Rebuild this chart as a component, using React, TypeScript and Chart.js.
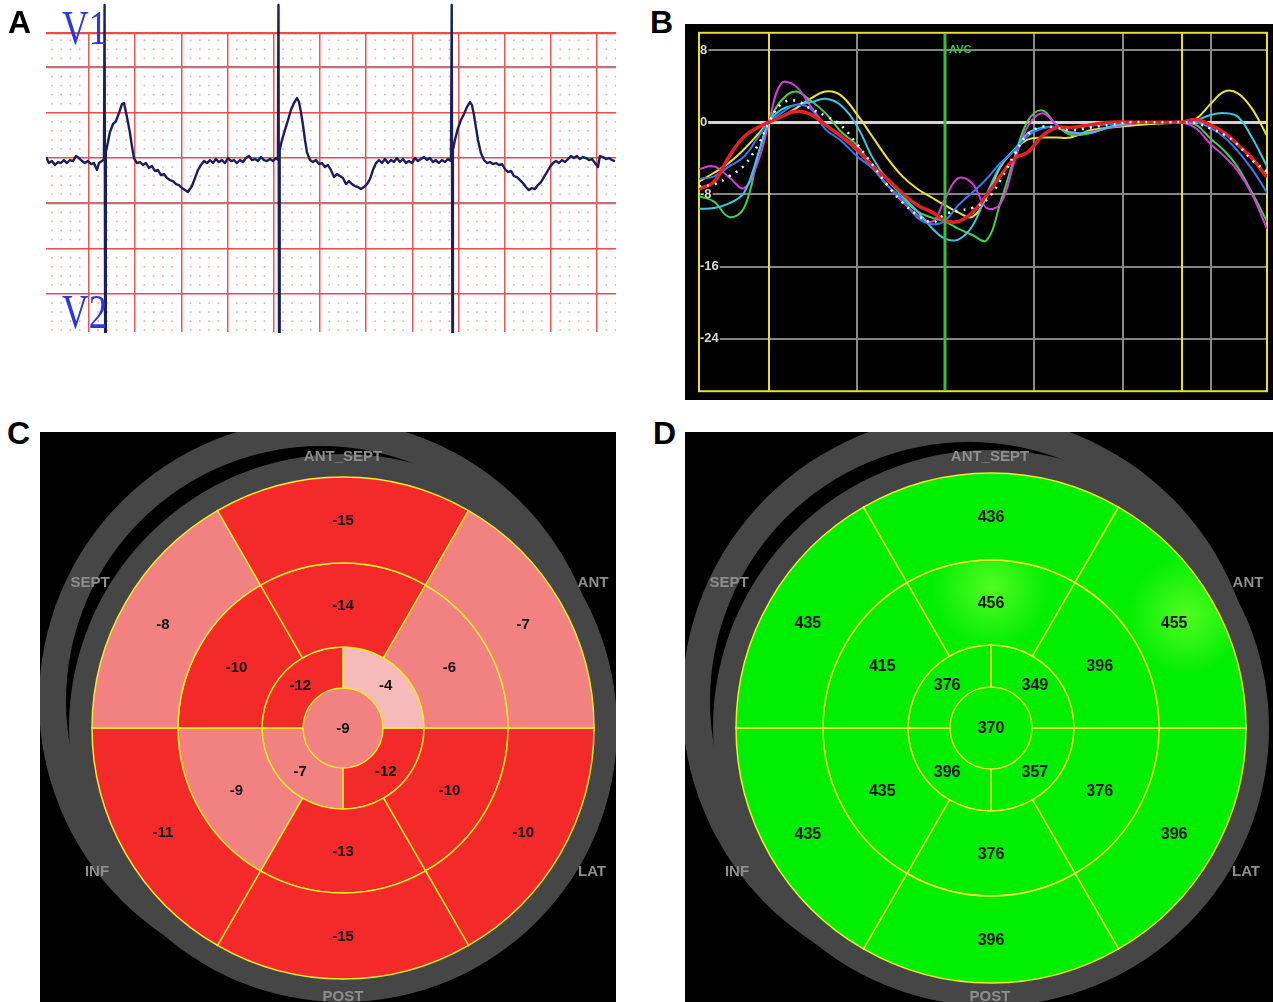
import React, { useEffect, useRef } from "react";
import { Chart, registerables } from "chart.js";

Chart.register(...registerables);

const FONT = '"Liberation Sans", Arial, sans-serif';
Chart.defaults.font.family = FONT;

// ---------------- Panel A : ECG (time in mm of paper, amplitude in mm) ----------------
const ecgTime = [
  0.35, 0.67, 0.99, 1.32, 1.65, 1.97, 2.29, 2.62, 2.94, 3.27, 3.59, 3.92, 4.24, 4.57, 4.89, 5.22, 5.54, 5.87, 6.08, 6.41,
  6.62, 6.69, 6.75, 6.82, 6.95, 7.27, 7.6, 7.92, 8.25, 8.57, 8.79, 9.0, 9.22, 9.44, 9.65, 9.87,
  10.19, 10.52, 10.84, 11.17, 11.49, 11.82, 12.14, 12.47, 12.79, 13.12, 13.44, 13.77, 14.09, 14.42, 14.74, 15.06,
  15.39, 15.71, 15.93, 16.15, 16.47, 16.8, 17.12, 17.45, 17.77, 18.1, 18.42, 18.74, 19.07, 19.39, 19.72, 20.04,
  20.37, 20.69, 21.02, 21.34, 21.67, 21.99, 22.32, 22.64, 22.97, 23.29, 23.61, 23.94, 24.26, 24.59, 24.91, 25.24,
  25.45, 25.51, 25.57, 25.64, 25.89, 26.21, 26.54, 26.86, 27.19, 27.51, 27.73, 27.94, 28.16, 28.38, 28.59,
  28.92, 29.24, 29.57, 29.89, 30.22, 30.54, 30.87, 31.19, 31.52, 31.84, 32.16, 32.49, 32.81, 33.14, 33.46, 33.79,
  34.11, 34.44, 34.76, 35.09, 35.41, 35.74, 36.06, 36.39, 36.71, 37.03, 37.36, 37.68, 38.01, 38.33, 38.66, 38.98,
  39.31, 39.63, 39.96, 40.28, 40.61, 40.93, 41.26, 41.58, 41.9, 42.23, 42.55, 42.88, 43.2, 43.53, 43.85,
  44.18, 44.26, 44.33, 44.39, 44.61, 44.94, 45.26, 45.59, 45.91, 46.24, 46.45, 46.67, 46.89, 47.1, 47.42,
  47.75, 48.07, 48.4, 48.72, 49.05, 49.37, 49.7, 50.02, 50.35, 50.67, 51.0, 51.32, 51.65, 51.97, 52.29, 52.62,
  52.94, 53.27, 53.59, 53.92, 54.24, 54.57, 54.89, 55.22, 55.54, 55.87, 56.19, 56.52, 56.84, 57.16, 57.49, 57.81,
  58.14, 58.46, 58.79, 59.11, 59.44, 59.76, 60.09, 60.3, 60.63, 60.95, 61.28, 61.6, 61.93,
];
const ecgAmp = [
  0.11, -0.55, -0.33, -0.77, -0.44, -0.55, -0.22, -0.55, -0.22, -0.33, 0.22, 0, -0.33, -0.55, -0.33, -0.66, -0.55, -1.32, -0.55, -0.33,
  -0.11, 16.9, -19.5, 0.66, 1.21, 2.87, 3.75, 4.08, 4.97, 5.96, 6.07, 5.08, 3.97, 2.76, 1.32, 0,
  -0.55, -0.44, -0.77, -0.55, -1.1, -0.88, -1.43, -1.32, -1.88, -1.77, -2.21, -2.43, -2.54, -2.87, -2.98, -3.31,
  -3.53, -3.75, -3.42, -3.09, -2.21, -1.32, -0.77, -0.33, -0.55, -0.22, -0.55, -0.11, -0.44, -0.22, -0.55, 0,
  -0.33, -0.22, -0.55, -0.22, -0.44, 0, 0.22, -0.22, -0.11, -0.33, 0.11, -0.22, -0.33, -0.11, -0.33, 0,
  -0.22, 16.9, -19.5, 0.88, 1.99, 3.09, 4.19, 5.3, 6.07, 6.62, 6.18, 5.08, 3.64, 1.99, 0.66,
  -0.22, -0.44, -0.22, -0.66, -0.55, -1.0, -0.77, -1.32, -2.1, -1.77, -1.99, -2.21, -2.87, -2.54, -2.87, -3.09,
  -3.2, -3.42, -3.2, -2.87, -2.32, -1.32, -0.55, -0.22, -0.55, -0.11, -0.55, -0.22, -0.44, 0, -0.44, -0.11,
  -0.55, -0.33, -0.55, 0, -0.33, -0.11, 0.11, -0.22, 0, -0.44, -0.22, -0.55, -0.22, -0.44, -0.11,
  -0.33, 16.9, -19.5, 0.88, 1.99, 3.31, 4.19, 4.86, 5.63, 6.18, 5.85, 4.75, 3.31, 1.99, 0.55,
  -0.22, -0.55, -0.44, -0.66, -0.55, -0.77, -0.66, -1.21, -1.55, -1.43, -1.99, -2.1, -2.43, -2.76, -3.2, -3.53,
  -3.31, -3.42, -2.98, -2.65, -2.1, -1.55, -0.99, -0.55, -0.33, -0.55, -0.22, -0.44, -0.11, 0.22, 0, 0.22,
  -0.11, 0.11, 0, -0.22, -0.11, -0.55, -0.99, 0.22, 0.11, -0.11, 0, -0.22, -0.33,
];
const ecgGridX = [5, 10, 15, 20, 25, 30, 35, 40, 45, 50, 55, 60];
const ecgGridY = [13.8, 10, 5, 0, -5, -10, -15];
const ecgDarkY = [10, -5];

// ---------------- Panel B : strain curves (time ms, strain %) ----------------
const strainTime = [
  -79, -62, -45, -28, -11, 0, 14, 30, 47, 64, 81, 100, 117, 134, 151, 168, 185, 199, 214, 230,
  246, 262, 278, 293, 309, 325, 341, 363, 386, 408, 431, 454, 467, 483, 499, 515, 530, 546, 563,
];
const strainYellow = [
  -6.6, -5.6, -4.5, -3.0, -1.2, 0, 0.6, 1.5, 2.6, 3.4, 3.0, 0.8, -1.6, -4.0, -6.0, -7.4, -8.4, -9.2, -10.0, -10.5,
  -8.3, -4.9, -3.0, -1.9, -1.7, -1.7, -1.7, -0.9, -0.6, -0.4, -0.2, -0.1, 0, 0.4, 2.0, 3.4, 3.2, 1.5, -1.5,
];
const strainCyan = [
  -9.6, -9.5, -9.0, -7.8, -3.2, 0, 1.4, 1.9, 2.2, 2.6, 1.9, -0.5, -3.9, -6.4, -8.2, -9.9, -11.8, -12.9, -13.0, -11.5,
  -8.0, -4.8, -3.0, -1.2, -0.6, -0.6, -1.1, -1.2, -0.5, -0.1, 0, 0, 0, 0.2, 0.8, 1.0, 0.6, -1.7, -4.9,
];
const strainGreen = [
  -8.2, -8.8, -10.5, -9.5, -3.2, 0, 2.4, 3.4, 2.4, 1.0, -1.0, -2.6, -4.9, -7.0, -8.5, -9.9, -10.6, -11.0, -11.8, -12.5,
  -13.1, -8.8, -3.8, 0.2, 1.3, -0.3, -1.4, -1.2, -0.5, -0.2, 0, 0, 0, -0.3, -1.8, -3.2, -5.0, -7.8, -11.0,
];
const strainMagenta = [
  -5.2, -4.9, -6.1, -7.3, -4.0, 0, 4.3, 4.0, 1.8, -0.3, -1.6, -3.2, -5.0, -7.0, -8.8, -10.3, -11.0, -8.5, -6.2, -6.8,
  -9.5, -9.0, -4.2, -0.4, 1.0, -0.3, -1.2, -1.1, -0.6, -0.2, 0, 0, 0, -0.7, -2.4, -3.8, -5.4, -8.0, -11.8,
];
const strainBlue = [
  -6.3, -6.0, -4.9, -3.8, -1.5, 0, 1.0, 1.9, 1.5, -0.8, -2.0, -3.8, -5.1, -7.0, -8.6, -10.6, -11.3, -10.9, -9.2, -7.8,
  -6.3, -4.5, -3.1, -1.5, -0.7, -0.5, -0.6, -0.4, -0.2, 0, 0, 0, 0, 0, -0.6, -1.7, -3.2, -5.2, -7.8,
];
const strainRed = [
  -7.4, -6.6, -3.8, -1.6, -0.5, 0, 0.6, 1.2, 0.9, -0.3, -1.5, -3.0, -4.8, -6.3, -7.9, -9.2, -10.0, -10.9, -11.0, -10.0,
  -8.1, -5.9, -4.0, -3.3, -1.5, -0.6, -0.6, -0.3, 0, 0, 0, 0, 0, 0.3, -0.3, -1.2, -2.5, -4.0, -6.1,
];
const strainAverage = [
  -7.1, -6.9, -6.0, -4.8, -2.3, 0, 2.0, 2.4, 1.5, 0.7, -0.3, -2.5, -4.7, -7.0, -8.9, -10.3, -11.1, -10.2, -9.8, -9.5,
  -8.6, -6.4, -3.5, -1.3, -0.5, -0.6, -0.9, -0.6, -0.3, 0, 0, 0, 0, -0.1, -0.7, -1.4, -2.5, -4.2, -5.5,
];
const strainTicks = [8, 0, -8, -16, -24];
const strainGridX = [100, 300, 400, 500];
const eventMarkers = [0, 467];
const avcTime = 199;
const avcLabel = "AVC";

// ---------------- Panels C / D : bull's-eye (order from 3 o'clock, clockwise) ----------------
const segmentNames = ["LAT", "POST", "INF", "SEPT", "ANT_SEPT", "ANT"];
const strainBasal = [-10, -15, -11, -8, -15, -7];
const strainMid = [-10, -13, -9, -10, -14, -6];
const strainApical = [-12, -7, -12, -4];
const strainApex = [-9];
const ttpBasal = [396, 396, 435, 435, 436, 455];
const ttpMid = [376, 376, 435, 415, 456, 396];
const ttpApical = [357, 396, 376, 349];
const ttpApex = [370];
const wallLabels = ["ANT_SEPT", "SEPT", "ANT", "INF", "LAT", "POST"];

// ---------------- helpers ----------------
const ecgDotsPlugin = {
  id: "ecgDots",
  beforeDatasetsDraw(chart: any) {
    const { ctx, scales } = chart;
    const x = scales.x;
    const y = scales.y;
    ctx.save();
    ctx.fillStyle = "#f3a6a6";
    for (let t = 1; t <= 62; t++) {
      if (t % 5 === 0) continue;
      const px = x.getPixelForValue(t);
      if (px < x.left || px > x.right) continue;
      for (let v = -19; v <= 13; v++) {
        if (v % 5 === 0) continue;
        const py = y.getPixelForValue(v);
        ctx.fillRect(px - 0.8, py - 0.8, 1.6, 1.6);
      }
    }
    ctx.restore();
  },
};

function makeEcg(canvas: HTMLCanvasElement) {
  return new Chart(canvas, {
    type: "line",
    data: {
      datasets: [
        {
          data: ecgTime.map((t, i) => ({ x: t, y: ecgAmp[i] })),
          borderColor: "#1b1e5c",
          borderWidth: 2.4,
          pointRadius: 0,
          tension: 0,
          borderJoinStyle: "round",
          clip: false,
        } as any,
      ],
    },
    options: {
      responsive: false,
      animation: false,
      events: [],
      layout: { padding: { top: 33, bottom: 1, left: 0, right: 0 } },
      plugins: { legend: { display: false }, tooltip: { enabled: false } },
      scales: {
        x: {
          type: "linear",
          min: 0.35,
          max: 62.04,
          afterBuildTicks: (s: any) => {
            s.ticks = ecgGridX.map((v) => ({ value: v }));
          },
          ticks: { display: false },
          border: { display: false },
          grid: { drawTicks: false, color: "#ee5656", lineWidth: 1.5 },
        },
        y: {
          min: -19.2,
          max: 13.8,
          afterBuildTicks: (s: any) => {
            s.ticks = ecgGridY.map((v) => ({ value: v }));
          },
          ticks: { display: false },
          border: { display: false },
          grid: {
            drawTicks: false,
            color: (c: any) => (ecgDarkY.includes(c.tick?.value) ? "#c07070" : "#ee4a4a"),
            lineWidth: (c: any) => (ecgDarkY.includes(c.tick?.value) || c.tick?.value === 13.8 ? 2.2 : 1.6),
          },
        },
      },
    } as any,
    plugins: [ecgDotsPlugin],
  });
}

const strainDecoPlugin = {
  id: "strainDeco",
  beforeDatasetsDraw(chart: any) {
    const { ctx, chartArea: a, scales } = chart;
    ctx.save();
    ctx.strokeStyle = "#e6de30";
    ctx.lineWidth = 2;
    for (const t of eventMarkers) {
      const px = Math.round(scales.x.getPixelForValue(t));
      ctx.beginPath();
      ctx.moveTo(px, a.top);
      ctx.lineTo(px, a.bottom);
      ctx.stroke();
    }
    ctx.strokeRect(a.left, a.top, a.width, a.height);
    ctx.restore();
  },
  afterDatasetsDraw(chart: any) {
    const { ctx, chartArea: a, scales } = chart;
    const px = Math.round(scales.x.getPixelForValue(avcTime));
    ctx.save();
    ctx.strokeStyle = "#3dbb3d";
    ctx.lineWidth = 3;
    ctx.beginPath();
    ctx.moveTo(px, a.top + 1);
    ctx.lineTo(px, a.bottom - 1);
    ctx.stroke();
    ctx.fillStyle = "#3fc03f";
    ctx.font = `bold 11px ${FONT}`;
    ctx.textBaseline = "middle";
    ctx.fillText(avcLabel, px + 4, scales.y.getPixelForValue(8));
    ctx.restore();
  },
};

function strainSeries(vals: number[], color: string, width: number, dash?: number[]) {
  return {
    data: strainTime.map((t, i) => ({ x: t, y: vals[i] })),
    borderColor: color,
    borderWidth: width,
    pointRadius: 0,
    tension: 0.4,
    borderJoinStyle: "round",
    borderDash: dash || [],
    borderCapStyle: "butt",
  } as any;
}

function makeStrain(canvas: HTMLCanvasElement) {
  return new Chart(canvas, {
    type: "line",
    data: {
      datasets: [
        strainSeries(strainAverage, "#ffffff", 2.5, [2, 6]),
        strainSeries(strainRed, "#e52222", 3.5),
        strainSeries(strainBlue, "#3a78ee", 2),
        strainSeries(strainCyan, "#36c8e6", 2),
        strainSeries(strainMagenta, "#d43ae0", 2),
        strainSeries(strainGreen, "#45cf45", 2),
        strainSeries(strainYellow, "#e8e23a", 2),
      ],
    },
    options: {
      responsive: false,
      animation: false,
      events: [],
      layout: { padding: { left: 12, right: 6, top: 8, bottom: 5 } },
      plugins: { legend: { display: false }, tooltip: { enabled: false } },
      scales: {
        x: {
          type: "linear",
          min: -79,
          max: 563,
          afterBuildTicks: (s: any) => {
            s.ticks = strainGridX.map((v) => ({ value: v }));
          },
          ticks: { display: false },
          border: { display: false },
          grid: { drawTicks: false, color: "#8a8a8a", lineWidth: 2 },
        },
        y: {
          min: -29.8,
          max: 9.9,
          afterBuildTicks: (s: any) => {
            s.ticks = strainTicks.map((v) => ({ value: v }));
          },
          ticks: {
            mirror: true,
            padding: 1,
            color: "#d8d8d8",
            font: { size: 13, weight: "bold" },
            showLabelBackdrop: true,
            backdropColor: "#000000",
            backdropPadding: 1,
          },
          border: { display: false },
          grid: {
            drawTicks: false,
            color: (c: any) => (c.tick?.value === 0 ? "#d4d4d4" : "#858585"),
            lineWidth: (c: any) => (c.tick?.value === 0 ? 3 : 2),
          },
        },
      },
    } as any,
    plugins: [strainDecoPlugin],
  });
}

type BullCfg = {
  rings: number[][];
  radius: number;
  weights: number[];
  color: (vals: number[], ring: number) => any;
  fontSize: number;
  shadow: { dx: number; dy: number; rin: number; rout: number };
  ringOut: number;
  labelPos: number[][];
};

function bullDecoPlugin(cfg: BullCfg) {
  return {
    id: "bullDeco",
    beforeDatasetsDraw(chart: any) {
      const el = chart.getDatasetMeta(0).data[0];
      const cx = el.x;
      const cy = el.y;
      const ctx = chart.ctx;
      ctx.save();
      ctx.fillStyle = "#464646";
      ctx.beginPath();
      ctx.arc(cx + cfg.shadow.dx, cy + cfg.shadow.dy, cfg.shadow.rout, 0, Math.PI * 2);
      ctx.arc(cx + cfg.shadow.dx, cy + cfg.shadow.dy, cfg.shadow.rin, 0, Math.PI * 2, true);
      ctx.fill();
      ctx.beginPath();
      ctx.arc(cx, cy, cfg.ringOut, 0, Math.PI * 2);
      ctx.arc(cx, cy, cfg.radius - 1, 0, Math.PI * 2, true);
      ctx.fill();
      ctx.restore();
    },
    afterDatasetsDraw(chart: any) {
      const ctx = chart.ctx;
      const el = chart.getDatasetMeta(0).data[0];
      const cx = el.x;
      const cy = el.y;
      ctx.save();
      ctx.textAlign = "center";
      ctx.textBaseline = "middle";
      ctx.font = `bold ${cfg.fontSize}px ${FONT}`;
      ctx.fillStyle = "#111111";
      chart.data.datasets.forEach((ds: any, i: number) => {
        chart.getDatasetMeta(i).data.forEach((arc: any, j: number) => {
          const p = arc.innerRadius < 1 ? { x: arc.x, y: arc.y } : arc.getCenterPoint();
          ctx.fillText(String(ds.values[j]), p.x, p.y + 1);
        });
      });
      ctx.font = `bold 15px ${FONT}`;
      ctx.fillStyle = "#8e8e8e";
      wallLabels.forEach((name, k) => {
        const [dx, dy] = cfg.labelPos[k];
        ctx.fillText(name, cx + dx, cy + dy);
      });
      ctx.restore();
    },
  };
}

function makeBullseye(canvas: HTMLCanvasElement, cfg: BullCfg) {
  return new Chart(canvas, {
    type: "doughnut",
    data: {
      labels: segmentNames,
      datasets: cfg.rings.map((vals, i) => ({
        data: vals.map(() => 1),
        values: vals,
        weight: cfg.weights[i],
        backgroundColor: cfg.color(vals, i),
        borderColor: "#f2ea2a",
        borderWidth: i === cfg.rings.length - 1 ? 0 : 1.5,
        borderJoinStyle: "miter",
      })) as any,
    },
    options: {
      responsive: false,
      animation: false,
      events: [],
      radius: cfg.radius,
      cutout: 0,
      rotation: 90,
      layout: { padding: 0 },
      plugins: { legend: { display: false }, tooltip: { enabled: false } },
    } as any,
    plugins: [bullDecoPlugin(cfg)],
  });
}

const strainColor = (vals: number[]) =>
  vals.map((v) => (v <= -10 ? "#f42a2a" : v <= -5 ? "#f28282" : "#f6baba"));

const D_WEIGHTS = [87, 85, 42, 41];
const D_RADIUS = 255;

const ttpColor = (vals: number[], ring: number) => (c: any) => {
  const base = "#00ee00";
  const v = vals[c.dataIndex];
  const a = c.chart.chartArea;
  if (v < 450 || !a) return base;
  let outer = D_RADIUS;
  for (let k = 0; k < ring; k++) outer -= D_WEIGHTS[k];
  const rMid = outer - D_WEIGHTS[ring] / 2 + 14;
  const ang = ((c.dataIndex + 0.5) * 2 * Math.PI) / vals.length;
  const cx = (a.left + a.right) / 2 + Math.cos(ang) * rMid;
  const cy = (a.top + a.bottom) / 2 + Math.sin(ang) * rMid;
  const g = c.chart.ctx.createRadialGradient(cx, cy, 0, cx, cy, 60);
  g.addColorStop(0, "#52fc22");
  g.addColorStop(1, base);
  return g;
};

const C_CFG: BullCfg = {
  rings: [strainBasal, strainMid, strainApical, strainApex],
  radius: 251,
  weights: [86, 84, 41, 40],
  color: (vals) => strainColor(vals),
  fontSize: 15,
  shadow: { dx: -22, dy: -27, rin: 255, rout: 282 },
  ringOut: 274,
  labelPos: [
    [0, -271],
    [-253, -145],
    [250, -145],
    [-246, 144],
    [249, 144],
    [0, 269],
  ],
};

const D_CFG: BullCfg = {
  rings: [ttpBasal, ttpMid, ttpApical, ttpApex],
  radius: D_RADIUS,
  weights: D_WEIGHTS,
  color: ttpColor,
  fontSize: 16,
  shadow: { dx: -22, dy: -27, rin: 259, rout: 287 },
  ringOut: 278,
  labelPos: [
    [-1, -271],
    [-262, -145],
    [257, -145],
    [-254, 144],
    [255, 144],
    [-1, 269],
  ],
};

const letterStyle = (left: number, top: number): React.CSSProperties => ({
  position: "absolute",
  left,
  top,
  fontFamily: FONT,
  fontWeight: "bold",
  fontSize: 32,
  lineHeight: "32px",
  color: "#000",
});

const leadStyle = (top: number): React.CSSProperties => ({
  position: "absolute",
  left: 62,
  top,
  fontFamily: '"Liberation Serif", "Times New Roman", serif',
  fontSize: 48,
  lineHeight: "48px",
  color: "#2b3ad6",
  transform: "scaleX(0.77)",
  transformOrigin: "left top",
  whiteSpace: "nowrap",
});

export default function App() {
  const aRef = useRef<HTMLCanvasElement>(null);
  const bRef = useRef<HTMLCanvasElement>(null);
  const cRef = useRef<HTMLCanvasElement>(null);
  const dRef = useRef<HTMLCanvasElement>(null);

  useEffect(() => {
    const charts = [
      makeEcg(aRef.current!),
      makeStrain(bRef.current!),
      makeBullseye(cRef.current!, C_CFG),
      makeBullseye(dRef.current!, D_CFG),
    ];
    return () => charts.forEach((c) => c.destroy());
  }, []);

  return (
    <div
      style={{
        position: "absolute",
        left: 0,
        top: 0,
        width: 1273,
        height: 1002,
        background: "#ffffff",
        overflow: "hidden",
      }}
    >
      <canvas ref={aRef} width={570} height={333} style={{ position: "absolute", left: 46, top: 0 }} />
      <div style={leadStyle(4)}>V1</div>
      <div style={leadStyle(288)}>V2</div>

      <div style={{ position: "absolute", left: 685, top: 24, width: 588, height: 376, background: "#000" }}>
        <canvas ref={bRef} width={588} height={376} style={{ position: "absolute", left: 0, top: 0 }} />
      </div>

      <div
        style={{ position: "absolute", left: 40, top: 432, width: 576, height: 570, background: "#000", overflow: "hidden" }}
      >
        <canvas ref={cRef} width={620} height={620} style={{ position: "absolute", left: -7, top: -14 }} />
      </div>

      <div
        style={{ position: "absolute", left: 685, top: 432, width: 588, height: 570, background: "#000", overflow: "hidden" }}
      >
        <canvas ref={dRef} width={620} height={620} style={{ position: "absolute", left: -4, top: -14 }} />
      </div>

      <div style={letterStyle(8, 6)}>A</div>
      <div style={letterStyle(650, 6)}>B</div>
      <div style={letterStyle(7, 417)}>C</div>
      <div style={letterStyle(653, 417)}>D</div>
    </div>
  );
}
